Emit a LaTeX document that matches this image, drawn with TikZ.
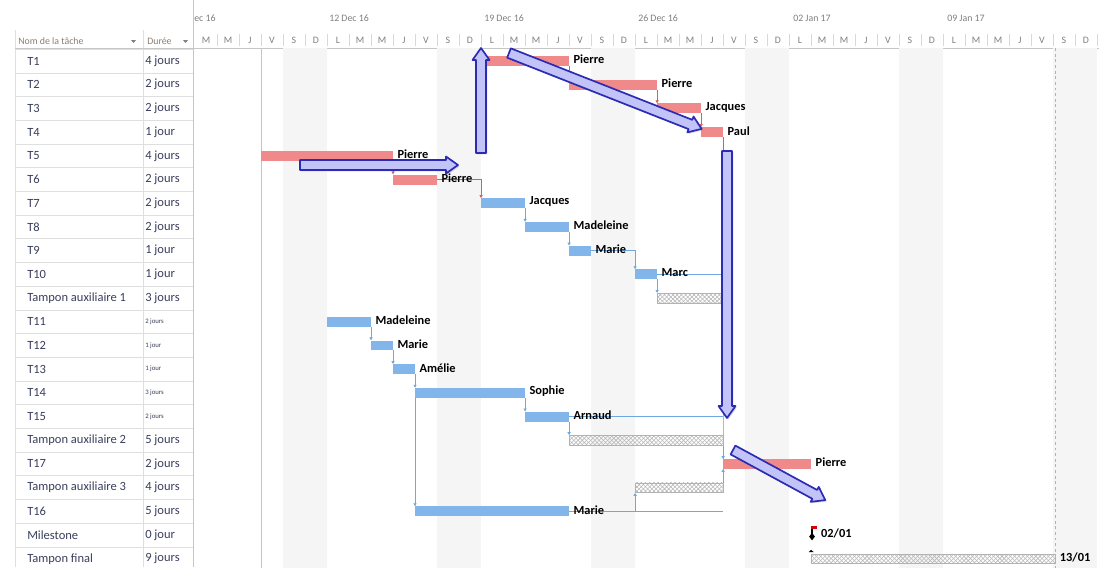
\documentclass[tikz,border=0pt]{standalone}
\usepackage{fontspec}
\setmainfont{Carlito}
\usetikzlibrary{patterns,shadows,arrows.meta}

\definecolor{rouge}{HTML}{F08A8A}
\definecolor{bleu}{HTML}{82B6EA}
\definecolor{lienbleu}{HTML}{6FA8E0}
\definecolor{lienrouge}{HTML}{E05A5A}
\definecolor{encre}{HTML}{3A3F5C}
\definecolor{entete}{HTML}{8C8073}
\definecolor{flechefond}{HTML}{C2C3F7}
\definecolor{flechebord}{HTML}{2B2BB5}
\definecolor{weekend}{HTML}{F5F5F5}

\tikzset{
  nom/.style={anchor=west, inner sep=0pt, text=encre, font=\fontsize{8.9}{11}\selectfont},
  duree/.style={nom},
  petit/.style={nom, font=\fontsize{4.8}{6}\selectfont},
  jour/.style={inner sep=0pt, text=gray, font=\fontsize{7}{8}\selectfont},
  semaine/.style={anchor=west, inner sep=0pt, text=gray, font=\fontsize{7}{8}\selectfont},
  etiq/.style={anchor=west, inner sep=0pt, xshift=3pt, font=\bfseries\fontsize{8.8}{10}\selectfont},
  grille/.style={draw=gray!25, line width=0.5pt},
  lienb/.style={draw=lienbleu, line width=0.6pt},
  lienr/.style={draw=lienrouge, line width=0.6pt},
  pointe/.style={-{Latex[length=2.2pt,width=2.6pt]}},
  tamp/.style={pattern=crosshatch, pattern color=gray!55, draw=gray!60, line width=0.4pt},
  grandefleche/.style={fill=flechefond, draw=flechebord, line width=1.2pt, line join=round,
    drop shadow={shadow xshift=1pt, shadow yshift=-1pt, opacity=0.3}}
}

% barre d'une tache : ligne, debut, fin, couleur, ressource
\newcommand{\tache}[5]{%
  \fill[#4] (#2,#1-0.21) rectangle (#3,#1+0.21);
  \node[etiq] at (#3,#1-0.06) {#5};}
% barre de tampon : ligne, debut, fin
\newcommand{\tampon}[3]{%
  \path[tamp] (#2,#1-0.2) rectangle (#3,#1+0.2);}
% grosse fleche : depart, angle, longueur
\newcommand{\fleche}[3]{%
  \begin{scope}[shift={(#1)},rotate=#2]
  \draw[grandefleche] (0,-5) -- ({#3-12},-5) -- ({#3-12},-8.5) -- (#3,0)
    -- ({#3-12},8.5) -- ({#3-12},5) -- (0,5) -- cycle;
  \end{scope}}

\begin{document}
\begin{tikzpicture}[x=0.025cm,y=-0.025cm]
\useasboundingbox (0,0) rectangle (1099,567);
\fill[white] (0,0) rectangle (1099,567);

%% tableau
\foreach \k in {0,...,22}
  \draw[grille] (15,{49.15+23.7*\k}) -- (193,{49.15+23.7*\k});
\draw[grille] (15,30) -- (15,567);
\draw[grille] (143,30) -- (143,567);
\draw[draw=gray!45] (193,0) -- (193,567);
\draw[draw=gray!45] (15,48) -- (1099,48);
\node[anchor=west, inner sep=0pt, text=entete, font=\fontsize{7}{8}\selectfont] (titrenom) at (18,41) {Nom de la tâche};
\node[anchor=west, inner sep=0pt, text=entete, font=\fontsize{7}{8}\selectfont] (titredur) at (147,41) {Durée};
\fill[gray] (131,40) -- (136,40) -- (133.5,43) -- cycle;
\fill[gray] (183,40) -- (188,40) -- (185.5,43) -- cycle;

\foreach \nom/\dur/\st [count=\k] in {T1/4 jours/duree, T2/2 jours/duree, T3/2 jours/duree,
    T4/1 jour/duree, T5/4 jours/duree, T6/2 jours/duree, T7/2 jours/duree, T8/2 jours/duree,
    T9/1 jour/duree, T10/1 jour/duree, Tampon auxiliaire 1/3 jours/duree, T11/2 jours/petit,
    T12/1 jour/petit, T13/1 jour/petit, T14/3 jours/petit, T15/2 jours/petit,
    Tampon auxiliaire 2/5 jours/duree, T17/2 jours/duree, Tampon auxiliaire 3/4 jours/duree,
    T16/5 jours/duree, Milestone/0 jour/duree, Tampon final/9 jours/duree}
{
  \node[nom] (nom\k) at (27,{37.3+23.7*\k}) {\nom};
  \node[\st] (dur\k) at (145,{37.3+23.7*\k}) {\dur};
}

%% en-tete du calendrier
\foreach \lettre [count=\i from 0] in {M,M,J,V,S,D,L,M,M,J,V,S,D,L,M,M,J,V,S,D,L,M,M,J,V,S,D,L,M,M,J,V,S,D,L,M,M,J,V,S,D}
{
  \node[jour] (j\i) at ({206+22*\i},40) {\lettre};
  \draw[draw=gray!30] ({217+22*\i},34) -- ({217+22*\i},46);
}
\node[semaine] (s0) at (194,18) {ec 16};
\node[semaine] (s1) at (329,18) {12 Dec 16};
\node[semaine] (s2) at (484,18) {19 Dec 16};
\node[semaine] (s3) at (638,18) {26 Dec 16};
\node[semaine] (s4) at (793,18) {02 Jan 17};
\node[semaine] (s5) at (947,18) {09 Jan 17};

%% diagramme (x en jours, y en lignes)
\begin{scope}[shift={(195,37.3)},x=0.55cm,y=-0.5925cm]
\foreach \d in {4,11,18,25,32,39}
  \fill[weekend] (\d,0.46) rectangle (\d+2,22.4);
\draw[green!40!gray!50, line width=0.5pt] (3,0.46) -- (3,22.4);
\draw[gray!60, dash pattern=on 2pt off 2pt] (39.1,0.46) -- (39.1,22.4);

% liens
\draw[lienr,pointe] (17,1.21) -- (17,1.79);
\draw[lienr,pointe] (21,2.21) -- (21,2.79);
\draw[lienr,pointe] (23,3.21) -- (23,3.79);
\draw[lienr] (24,4.21) -- (24,4.9);
\draw[lienr,pointe] (9,5.21) -- (9,5.79);
\draw[lienr,pointe] (11,6) -- (13,6) -- (13,6.79);
\draw[lienb,pointe] (15,7.21) -- (15,7.79);
\draw[lienb,pointe] (17,8.21) -- (17,8.79);
\draw[lienb,pointe] (18,9) -- (20,9) -- (20,9.79);
\draw[lienb] (21,10) -- (24,10);
\draw[lienb,pointe] (21,10.21) -- (21,10.79);
\draw[lienb,pointe] (8,12.21) -- (8,12.79);
\draw[lienb,pointe] (9,13.21) -- (9,13.79);
\draw[lienb,pointe] (10,14.21) -- (10,14.79);
\draw[lienb,pointe] (10,14.79) -- (10,19.79);
\draw[lienb,pointe] (15,15.21) -- (15,15.79);
\draw[lienb] (17,16) -- (24,16);
\draw[lienb,pointe] (17,16.21) -- (17,16.79);
\draw[lienb] (17,20) -- (24,20);
\draw[lienb,pointe] (20,20) -- (20,19.21);
\draw[gray!55] (24,10) -- (24,19.2);
\draw[lienb,pointe] (24,17.2) -- (24,17.8);
\draw[lienb,pointe] (24,18.8) -- (24,18.2);

% barres
\tache{1}{13}{17}{rouge}{Pierre}
\tache{2}{17}{21}{rouge}{Pierre}
\tache{3}{21}{23}{rouge}{Jacques}
\tache{4}{23}{24}{rouge}{Paul}
\tache{5}{3}{9}{rouge}{Pierre}
\tache{6}{9}{11}{rouge}{Pierre}
\tache{7}{13}{15}{bleu}{Jacques}
\tache{8}{15}{17}{bleu}{Madeleine}
\tache{9}{17}{18}{bleu}{Marie}
\tache{10}{20}{21}{bleu}{Marc}
\tampon{11}{21}{24}
\tache{12}{6}{8}{bleu}{Madeleine}
\tache{13}{8}{9}{bleu}{Marie}
\tache{14}{9}{10}{bleu}{Amélie}
\tache{15}{10}{15}{bleu}{Sophie}
\tache{16}{15}{17}{bleu}{Arnaud}
\tampon{17}{17}{24}
\tache{18}{24}{28}{rouge}{Pierre}
\tampon{19}{20}{24}
\tache{20}{10}{17}{bleu}{Marie}
\tampon{22}{28}{39.1}
\node[etiq] (fin) at (39.1,21.94) {13/01};
\fill[black] (28,21.62) -- (28.12,21.72) -- (27.88,21.72) -- cycle;

% jalon
\fill[red!85!black] (28,20.62) rectangle (28.27,20.74);
\draw[black, line width=0.8pt] (28.04,20.74) -- (28.04,20.95);
\fill[black] (28.04,20.9) -- (28.17,21.06) -- (28.04,21.22) -- (27.91,21.06) -- cycle;
\node[etiq] (jalon) at (28.25,20.92) {02/01};
\end{scope}

%% grosses fleches
\fleche{300,165}{0}{158}
\fleche{481,153}{90}{105}
\fleche{509,53}{-21.5}{207}
\fleche{727,151}{-90}{267}
\fleche{733,450}{-28.5}{105}
\end{tikzpicture}
\end{document}
